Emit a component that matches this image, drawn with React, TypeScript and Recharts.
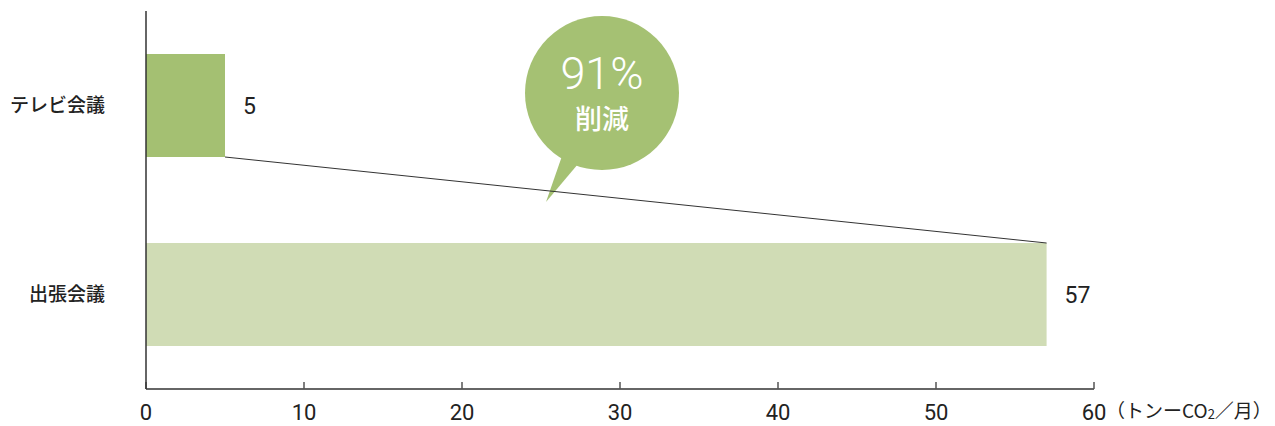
import React from 'react';
import { BarChart, Bar, XAxis, YAxis, Cell, LabelList, ReferenceLine, Customized } from 'recharts';

const categories = ['テレビ会議', '出張会議'];
const values = [5, 57];
const xTicks = [0, 10, 20, 30, 40, 50, 60];
const unitLabel = ['（トンーCO', '2', '／月）'];
const bubbleText = ['91%', '削減'];

const data = categories.map((name, i) => ({ name, value: values[i] }));

const BAR_COLORS = ['#a4c072', '#d0dcb5'];
const BAR_SIZE = 103;
const TEXT = '#222222';
const NUM_FONT = 'Roboto, "Noto Sans", sans-serif';
const JP_FONT = '"Noto Sans CJK JP", "Noto Sans", sans-serif';

const ConnectorShape = (props: any) => {
  const { x1, y1, x2, y2 } = props;
  if ([x1, y1, x2, y2].some((v) => v === undefined || isNaN(v))) return null;
  return (
    <line
      x1={x1}
      y1={y1 + BAR_SIZE / 2}
      x2={x2}
      y2={y2 - BAR_SIZE / 2}
      stroke="#333"
      strokeWidth={1}
    />
  );
};

const Bubble = () => {
  const cx = 602;
  const cy = 93;
  const r = 77;
  return (
    <g>
      <circle cx={cx} cy={cy} r={r} fill="#a5c173" />
      <path d="M 562 156 L 546 202 L 578 164 Z" fill="#a5c173" />
      <text
        x={cx}
        y={89}
        textAnchor="middle"
        fill="#fff"
        fontFamily={NUM_FONT}
        fontWeight={300}
        fontSize={45}
      >
        {bubbleText[0]}
      </text>
      <text
        x={cx}
        y={129}
        textAnchor="middle"
        fill="#fff"
        fontFamily={JP_FONT}
        fontWeight={500}
        fontSize={27}
      >
        {bubbleText[1]}
      </text>
    </g>
  );
};

const UnitLabel = (props: any) => {
  const vb = props.viewBox || {};
  const x = (vb.x ?? 0) + (vb.width ?? 0) + 12;
  const y = 418;
  return (
    <text x={x} y={y} fill={TEXT} fontFamily={JP_FONT} fontSize={19}>
      {unitLabel[0]}
      <tspan fontSize={13} dy={1}>{unitLabel[1]}</tspan>
      <tspan dy={-1}>{unitLabel[2]}</tspan>
    </text>
  );
};

export default function App() {
  return (
    <div style={{ position: 'absolute', left: 0, top: 0, background: '#fff' }}>
      <BarChart
        width={1275}
        height={426}
        data={data}
        layout="vertical"
        margin={{ top: 11, right: 181, bottom: 0, left: 0 }}
      >
        <XAxis
          type="number"
          domain={[0, 60]}
          ticks={xTicks}
          height={37}
          axisLine={{ stroke: '#333', strokeWidth: 1.5 }}
          tickLine={{ stroke: '#555', strokeWidth: 1.5 }}
          tickSize={-7}
          tickMargin={22}
          tick={{ fill: TEXT, fontFamily: NUM_FONT, fontSize: 22, fontWeight: 400 }}
          label={{ content: <UnitLabel /> }}
          interval={0}
        />
        <YAxis
          type="category"
          dataKey="name"
          width={146}
          axisLine={{ stroke: '#333', strokeWidth: 1.5 }}
          tickLine={false}
          tickSize={0}
          tickMargin={41}
          tick={{ fill: TEXT, fontFamily: JP_FONT, fontSize: 19, fontWeight: 500 }}
        />
        <Bar dataKey="value" barSize={BAR_SIZE} isAnimationActive={false}>
          {data.map((d, i) => (
            <Cell key={d.name} fill={BAR_COLORS[i]} />
          ))}
          <LabelList
            dataKey="value"
            position="right"
            offset={18}
            fill={TEXT}
            fontFamily={NUM_FONT}
            fontSize={23}
            fontWeight={400}
          />
        </Bar>
        <ReferenceLine
          segment={[
            { x: values[0], y: categories[0] },
            { x: values[1], y: categories[1] },
          ]}
          shape={<ConnectorShape />}
          ifOverflow="visible"
        />
        <Customized component={<Bubble />} />
      </BarChart>
    </div>
  );
}
